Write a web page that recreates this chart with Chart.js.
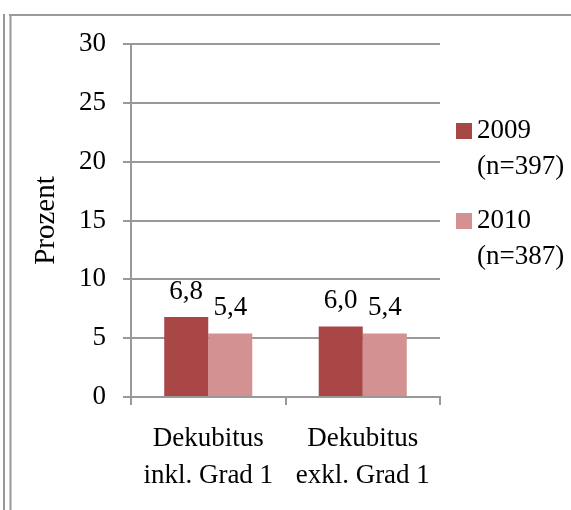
<!DOCTYPE html>
<html>
<head>
<meta charset="utf-8">
<script src="https://cdn.jsdelivr.net/npm/chart.js@4/dist/chart.umd.min.js"></script>
<style>
  html, body { margin: 0; padding: 0; background: #fff; }
  #wrap { width: 571px; height: 510px; position: relative; }
</style>
</head>
<body>
<div id="wrap"><canvas id="chart" width="571" height="510"></canvas></div>
<script>
// Daten
const categories = [['Dekubitus', 'inkl. Grad 1'], ['Dekubitus', 'exkl. Grad 1']];
const series2009 = [6.8, 6.0];
const series2010 = [5.4, 5.4];
const legendLabels = [['2009', '(n=397)'], ['2010', '(n=387)']];
const yTicks = [0, 5, 10, 15, 20, 25, 30];

const FONT = "'Liberation Serif', 'Times New Roman', serif";
const gridColor = '#999999';

// Rahmen links/oben
const framePlugin = {
    id: 'frame',
    beforeDraw(chart) {
        const ctx = chart.ctx;
        ctx.save();
        ctx.strokeStyle = '#9a9a9a';
        ctx.lineWidth = 2;
        ctx.beginPath();
        ctx.moveTo(4, 14); ctx.lineTo(4, 510);
        ctx.moveTo(10.5, 15); ctx.lineTo(10.5, 510);
        ctx.moveTo(9, 15); ctx.lineTo(571, 15);
        ctx.stroke();
        ctx.restore();
    }
};

// Werte über den Balken (mit Komma)
const valueLabels = {
    id: 'valueLabels',
    afterDatasetsDraw(chart) {
        const ctx = chart.ctx;
        ctx.save();
        ctx.font = '27px ' + FONT;
        ctx.fillStyle = '#000';
        ctx.textAlign = 'center';
        ctx.textBaseline = 'alphabetic';
        chart.data.datasets.forEach((ds, i) => {
            chart.getDatasetMeta(i).data.forEach((bar, j) => {
                const txt = ds.data[j].toFixed(1).replace('.', ',');
                ctx.fillText(txt, bar.x, bar.y - 18);
            });
        });
        ctx.restore();
    }
};

// Legende rechts, zweizeilig
const sideLegend = {
    id: 'sideLegend',
    afterDraw(chart) {
        const ctx = chart.ctx;
        const area = chart.chartArea;
        ctx.save();
        ctx.font = '27px ' + FONT;
        ctx.textAlign = 'left';
        ctx.textBaseline = 'middle';
        chart.data.datasets.forEach((ds, i) => {
            const top = 123 + i * 90;
            const x = area.right + 16;
            ctx.fillStyle = ds.backgroundColor;
            ctx.fillRect(x, top, 16, 16);
            ctx.fillStyle = '#000';
            legendLabels[i].forEach((line, k) => {
                ctx.fillText(line, x + 21, top + 8 + k * 36);
            });
        });
        ctx.restore();
    }
};

new Chart(document.getElementById('chart'), {
    type: 'bar',
    data: {
        labels: categories,
        datasets: [
            {
                label: '2009 (n=397)',
                data: series2009,
                backgroundColor: '#a94747',
                categoryPercentage: 0.57,
                barPercentage: 1.0
            },
            {
                label: '2010 (n=387)',
                data: series2010,
                backgroundColor: '#d49191',
                categoryPercentage: 0.57,
                barPercentage: 1.0
            }
        ]
    },
    options: {
        responsive: false,
        animation: false,
        layout: {
            padding: { left: 0, right: 131, top: 44, bottom: 0 }
        },
        plugins: {
            legend: { display: false },
            tooltip: { enabled: false }
        },
        scales: {
            x: {
                grid: {
                    drawOnChartArea: false,
                    drawTicks: true,
                    tickLength: 8,
                    color: gridColor,
                    lineWidth: 2,
                    offset: true
                },
                border: { display: true, color: gridColor, width: 2 },
                ticks: {
                    color: '#000',
                    padding: 16,
                    font: { family: FONT, size: 27, lineHeight: 1.35 }
                },
                afterFit(scale) {
                    scale.height = 113;
                    scale.paddingLeft = 0;
                    scale.paddingRight = 0;
                }
            },
            y: {
                min: 0,
                max: 30,
                afterBuildTicks(scale) {
                    scale.ticks = yTicks.map(v => ({ value: v }));
                },
                grid: {
                    color: gridColor,
                    lineWidth: 2,
                    tickLength: 8
                },
                border: { display: true, color: gridColor, width: 2 },
                ticks: {
                    color: '#000',
                    padding: 17,
                    font: { family: FONT, size: 27 }
                },
                title: {
                    display: true,
                    text: 'Prozent',
                    color: '#000',
                    padding: { top: 29, bottom: 0 },
                    font: { family: FONT, size: 29 }
                },
                afterFit(scale) {
                    scale.width = 131;
                    scale.paddingTop = 0;
                    scale.paddingBottom = 0;
                }
            }
        }
    },
    plugins: [framePlugin, valueLabels, sideLegend]
});
</script>
</body>
</html>
